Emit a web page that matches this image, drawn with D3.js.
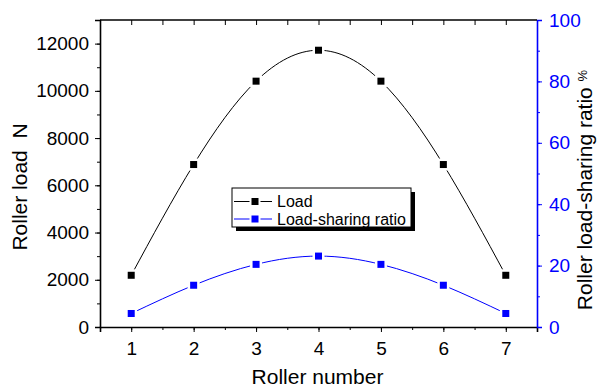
<!DOCTYPE html>
<html>
<head>
<meta charset="utf-8">
<script src="https://cdn.jsdelivr.net/npm/d3@7"></script>
<style>
  html, body { margin: 0; padding: 0; background: #fff; }
  svg { display: block; font-family: "Liberation Sans", Arial, sans-serif; }
</style>
</head>
<body>
<div id="chart"></div>
<script>
const rollers = [1, 2, 3, 4, 5, 6, 7];
const loadValues = [2190, 6880, 10410, 11720, 10410, 6880, 2190];
const ratioValues = [4.4, 13.6, 20.4, 23.1, 20.4, 13.6, 4.4];
const leftTicks = [0, 2000, 4000, 6000, 8000, 10000, 12000];
const rightTicks = [0, 20, 40, 60, 80, 100];
const legendLabels = ["Load", "Load-sharing ratio"];

const W = 597, H = 387;
const margin = { top: 20, right: 60, bottom: 60, left: 100 };
const innerW = W - margin.left - margin.right;
const innerH = H - margin.top - margin.bottom;
const BLUE = "#0000ff";
const fmt = d3.format("d");

const svg = d3.select("#chart").append("svg")
  .attr("width", W)
  .attr("height", H);

const g = svg.append("g")
  .attr("transform", `translate(${margin.left},${margin.top})`);

const x = d3.scaleLinear().domain([0.5, 7.5]).range([0, innerW]);
const yL = d3.scaleLinear().domain([0, 13000]).range([innerH, 0]);
const yR = d3.scaleLinear().domain([0, 100]).range([innerH, 0]);

// minor ticks first (no labels)
const minorX = d3.range(0.5, 7.51, 0.5);
const minorL = d3.range(0, 13001, 1000);
const minorR = d3.range(0, 101, 10);

g.append("g")
  .attr("transform", `translate(0,${innerH})`)
  .call(d3.axisBottom(x).tickValues(minorX).tickSize(3).tickFormat(""))
  .call(ax => ax.select(".domain").remove());
g.append("g")
  .call(d3.axisLeft(yL).tickValues(minorL).tickSize(3).tickFormat(""))
  .call(ax => ax.select(".domain").remove());
g.append("g")
  .attr("transform", `translate(${innerW},0)`)
  .call(d3.axisRight(yR).tickValues(minorR).tickSize(3).tickFormat(""))
  .call(ax => ax.select(".domain").remove())
  .call(ax => ax.selectAll(".tick line").attr("stroke", BLUE));
// top axis: ticks pointing inwards
g.append("g")
  .call(d3.axisBottom(x).tickValues(minorX.slice(1, -1)).tickSize(5).tickFormat(""))
  .call(ax => ax.select(".domain").remove());

// major axes
g.append("g")
  .attr("transform", `translate(0,${innerH})`)
  .call(d3.axisBottom(x).tickValues(rollers).tickFormat(fmt).tickSize(5).tickPadding(10))
  .call(ax => ax.select(".domain").attr("stroke-width", 1.6))
  .call(ax => ax.selectAll("text").attr("font-size", 19).attr("fill", "#000"));

g.append("g")
  .call(d3.axisLeft(yL).tickValues(leftTicks).tickFormat(fmt).tickSize(5).tickPadding(6))
  .call(ax => ax.select(".domain").attr("stroke-width", 1.6))
  .call(ax => ax.selectAll("text").attr("font-size", 19).attr("fill", "#000"));

g.append("g")
  .attr("transform", `translate(${innerW},0)`)
  .call(d3.axisRight(yR).tickValues(rightTicks).tickFormat(fmt).tickSize(5).tickPadding(7))
  .call(ax => ax.select(".domain").attr("stroke", BLUE).attr("stroke-width", 1.6))
  .call(ax => ax.selectAll(".tick line").attr("stroke", BLUE))
  .call(ax => ax.selectAll("text").attr("font-size", 19).attr("fill", BLUE));

g.append("line")
  .attr("x1", 0).attr("x2", innerW).attr("y1", 0).attr("y2", 0)
  .attr("stroke", "#000").attr("stroke-width", 1.6);

// series
const loadData = rollers.map((r, i) => ({ r, v: loadValues[i] }));
const ratioData = rollers.map((r, i) => ({ r, v: ratioValues[i] }));

function drawSeries(data, yScale, color) {
  const line = d3.line()
    .x(d => x(d.r))
    .y(d => yScale(d.v))
    .curve(d3.curveNatural);
  g.append("path")
    .datum(data)
    .attr("fill", "none")
    .attr("stroke", color)
    .attr("stroke-width", 1)
    .attr("d", line);
  const s = 7;
  g.append("g").selectAll("rect")
    .data(data)
    .join("rect")
      .attr("x", d => x(d.r) - s / 2)
      .attr("y", d => yScale(d.v) - s / 2)
      .attr("width", s)
      .attr("height", s)
      .attr("fill", color)
      .attr("stroke", "#fff")
      .attr("stroke-width", 5)
      .style("paint-order", "stroke");
}
drawSeries(loadData, yL, "#000");
drawSeries(ratioData, yR, BLUE);

// legend
const lg = svg.append("g").attr("transform", "translate(232,188)");
const lgW = 179, lgH = 39;
lg.append("rect").attr("x", 4).attr("y", 4).attr("width", lgW).attr("height", lgH).attr("fill", "#000");
lg.append("rect").attr("x", 0).attr("y", 0).attr("width", lgW).attr("height", lgH)
  .attr("fill", "#fff").attr("stroke", "#000").attr("stroke-width", 1);
[["#000", 13.5], [BLUE, 31]].forEach(([c, yy], i) => {
  lg.append("line").attr("x1", 2).attr("x2", 40).attr("y1", yy).attr("y2", yy)
    .attr("stroke", c).attr("stroke-width", 1);
  lg.append("rect").attr("x", 19.5).attr("y", yy - 3.5).attr("width", 7).attr("height", 7)
    .attr("fill", c).attr("stroke", "#fff").attr("stroke-width", 4).style("paint-order", "stroke");
  lg.append("text").attr("x", 45).attr("y", yy).attr("dy", "0.36em")
    .attr("font-size", 16).attr("fill", "#000").text(legendLabels[i]);
});

// axis titles
svg.append("text")
  .attr("x", margin.left + innerW / 2 - 1)
  .attr("y", 384)
  .attr("text-anchor", "middle")
  .attr("font-size", 21)
  .text("Roller number");

svg.append("text")
  .attr("transform", `translate(27,187) rotate(-90)`)
  .attr("text-anchor", "middle")
  .attr("font-size", 21)
  .attr("xml:space", "preserve")
  .text("Roller load  N");

const rt = svg.append("text")
  .attr("transform", `translate(592,190) rotate(-90)`)
  .attr("text-anchor", "middle")
  .attr("font-size", 21);
rt.append("tspan").text("Roller load-sharing ratio ");
rt.append("tspan").attr("font-size", 13).attr("dy", -5).text("%");
</script>
</body>
</html>
